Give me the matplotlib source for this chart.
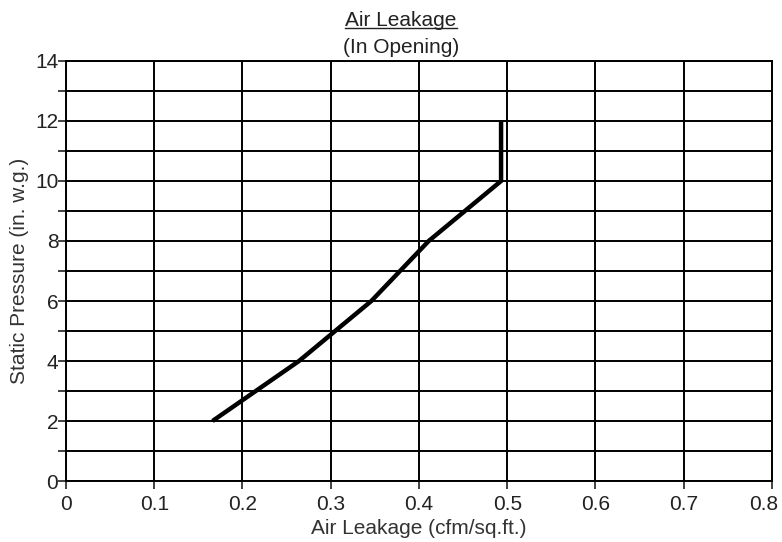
import matplotlib
matplotlib.use("Agg")
import matplotlib.pyplot as plt
from matplotlib.lines import Line2D
from matplotlib.ticker import MultipleLocator, FuncFormatter

plt.rcParams['font.family'] = ['Liberation Sans', 'DejaVu Sans']

leakage = [0.166, 0.264, 0.346, 0.411, 0.493, 0.493]
pressure = [2, 4, 6, 8, 10, 12]
x_max = 0.8

fig = plt.figure(figsize=(7.82, 5.42), dpi=100)
ax = fig.add_axes([0.0844, 0.1125, 0.9028, 0.775])

ax.plot(leakage, pressure, color='black', linewidth=3.2, solid_capstyle='butt', solid_joinstyle='miter')

tick_len = 5.5
tick_pad = 4.5
ax.set_xlim(0, x_max)
ax.set_ylim(0, 14)
ax.xaxis.set_major_locator(MultipleLocator(0.1))
ax.yaxis.set_major_locator(MultipleLocator(2))
ax.yaxis.set_minor_locator(MultipleLocator(1))
ax.xaxis.set_major_formatter(FuncFormatter(
    lambda v, p: '' if abs(v - x_max) < 1e-9 else ('%g' % round(v, 2))))
ax.grid(True, which='both', color='black', linewidth=1.4)
ax.set_axisbelow(True)
for s in ax.spines.values():
    s.set_linewidth(1.4)
ax.tick_params(axis='both', which='both', direction='out', length=tick_len, width=1.2,
               labelsize=15, colors='#222222')
ax.tick_params(axis='y', pad=0)
ax.tick_params(axis='x', pad=tick_pad)

# last tick label nudged left so it fits inside the image
ax.annotate('%g' % x_max, xy=(x_max, 0), xycoords=('data', 'axes fraction'),
            xytext=(-6, -(tick_len + tick_pad)), textcoords='offset points',
            ha='center', va='top', fontsize=15, color='#222222', annotation_clip=False)

ax.set_xlabel('Air Leakage (cfm/sq.ft.)', fontsize=15, color='#333333', labelpad=4)
ax.set_ylabel('Static Pressure (in. w.g.)', fontsize=15, color='#333333', labelpad=4)

t = fig.text(0.513, 0.963, 'Air Leakage', ha='center', va='center', fontsize=15, color='#222222')
fig.text(0.513, 0.913, '(In Opening)', ha='center', va='center', fontsize=15, color='#222222')

fig.canvas.draw()
bb = t.get_window_extent().transformed(fig.transFigure.inverted())
fig.add_artist(Line2D([bb.x0, bb.x1], [bb.y0 + 0.003, bb.y0 + 0.003], transform=fig.transFigure,
                      color='#222222', linewidth=1.0))

fig.savefig('out.png', dpi=100)
